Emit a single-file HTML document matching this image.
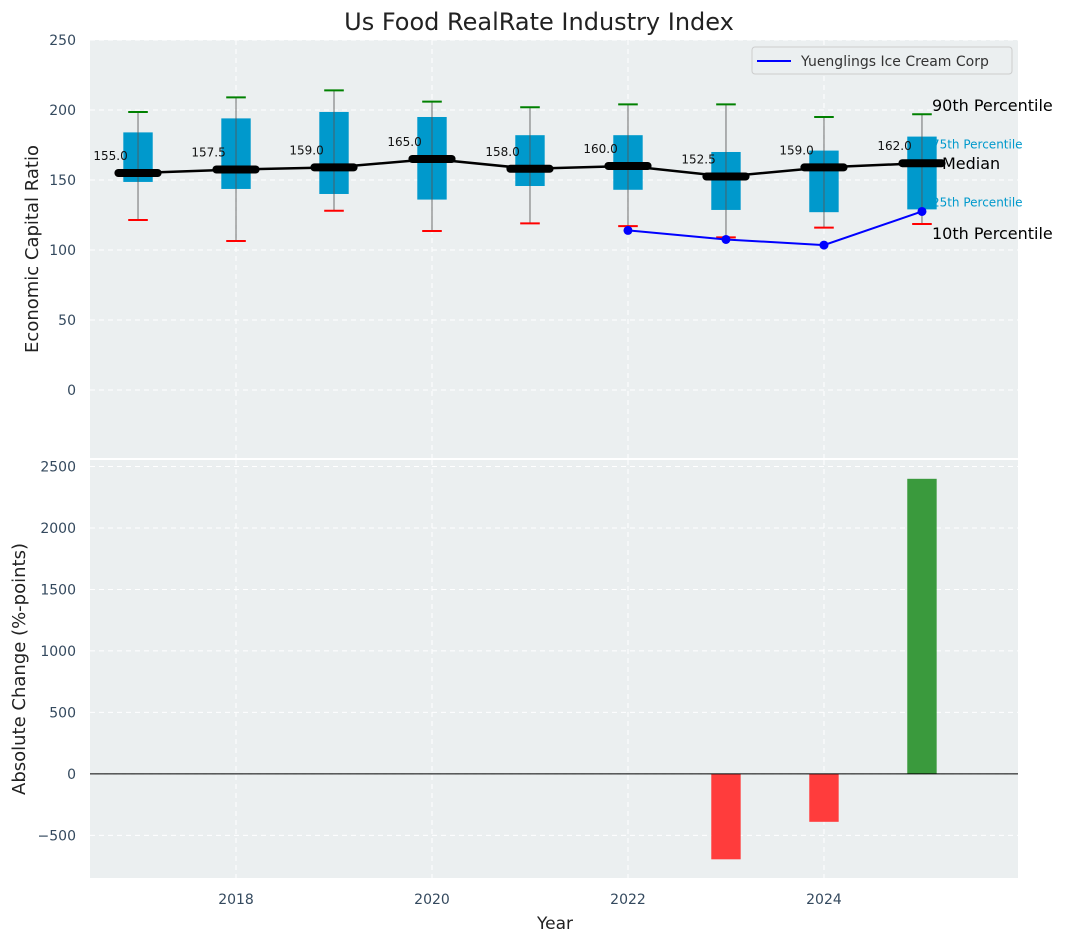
<!DOCTYPE html>
<html><head><meta charset="utf-8"><style>
body{margin:0;background:#fff;}
svg text{font-family:"DejaVu Sans","Liberation Sans",sans-serif;}
</style></head><body>
<svg id="c" width="1067" height="942" xmlns="http://www.w3.org/2000/svg">
<text x="539" y="30" text-anchor="middle" font-size="24" fill="#222">Us Food RealRate Industry Index</text>
<g id="topg"></g><g id="botg"></g>
</svg>
<script>
const years=[2017,2018,2019,2020,2021,2022,2023,2024,2025];
const p90=[198.6,209,214,206,202,204,204,195,197];
const p75=[184,194,198.6,195,182,182,170,171,181];
const median=[155,157.5,159,165,158,160,152.5,159,162];
const p25=[148.6,143.6,140,136,145.7,143,128.6,127,129];
const p10=[121.4,106.4,128,113.6,119,117,109,116,118.6];
const compYears=[2022,2023,2024,2025];
const compVals=[114,107.5,103.5,127.5];
const changeYears=[2023,2024,2025];
const changeVals=[-695,-390,2400];
const topTicks=[0,50,100,150,200,250];
const botTicks=[-500,0,500,1000,1500,2000,2500];
const xTicks=[2018,2020,2022,2024];

const NS="http://www.w3.org/2000/svg";
const X0=90,X1=1018;
const sx=v=>X0+(v-2016.51)/(2025.98-2016.51)*(X1-X0);
const T0=40,T1=458;const sy=v=>T1-(v+48.6)/(250+48.6)*(T1-T0);
const B0=460,B1=878;const by=v=>B1-(v+847)/(2553+847)*(B1-B0);
function el(tag,at,parent,name,txt){const e=document.createElementNS(NS,tag);for(const k in at)e.setAttribute(k,at[k]);


if(txt!==undefined)e.textContent=txt;parent.appendChild(e);return e;}
const topG=document.getElementById('topg'),botG=document.getElementById('botg');
el('rect',{x:X0,y:T0,width:X1-X0,height:T1-T0,fill:'#ebeff0'},topG,'top-plot-area');
el('rect',{x:X0,y:B0,width:X1-X0,height:B1-B0,fill:'#ebeff0'},botG,'bottom-plot-area');
const grid={stroke:'#fff','stroke-dasharray':'5,4','stroke-width':1};
topTicks.forEach(t=>{el('line',{x1:X0,x2:X1,y1:sy(t),y2:sy(t),...grid},topG,'y-gridline');
el('text',{x:76,y:sy(t)+5,'text-anchor':'end','font-size':14,fill:'#34495e'},topG,'y-tick-label',t);});
botTicks.forEach(t=>{el('line',{x1:X0,x2:X1,y1:by(t),y2:by(t),...grid},botG,'y-gridline');
el('text',{x:76,y:by(t)+5,'text-anchor':'end','font-size':14,fill:'#34495e'},botG,'y-tick-label',t<0?'\u2212'+(-t):t);});
xTicks.forEach(t=>{el('line',{x1:sx(t),x2:sx(t),y1:T0,y2:T1,...grid},topG,'x-gridline');
el('line',{x1:sx(t),x2:sx(t),y1:B0,y2:B1,...grid},botG,'x-gridline');
el('text',{x:sx(t),y:904,'text-anchor':'middle','font-size':14,fill:'#34495e'},botG,'x-tick-label',t);});
const ax=sx(2025)+10;
el('text',{x:ax,y:sy(p90[8])-3,'font-size':16,fill:'#000'},topG,'p90-annotation','90th Percentile');
el('text',{x:ax,y:sy(p75[8])+12,'font-size':12,fill:'#0099cc'},topG,'p75-annotation','75th Percentile');
el('text',{x:ax+10,y:sy(median[8])+6,'font-size':16,fill:'#000'},topG,'median-annotation','Median');
el('text',{x:ax,y:sy(p25[8])-3,'font-size':12,fill:'#0099cc'},topG,'p25-annotation','25th Percentile');
el('text',{x:ax,y:sy(p10[8])+15,'font-size':16,fill:'#000'},topG,'p10-annotation','10th Percentile');
years.forEach((y,i)=>{const cx=sx(y);
el('rect',{x:sx(y-0.15),y:sy(p75[i]),width:sx(y+0.15)-sx(y-0.15),height:sy(p25[i])-sy(p75[i]),fill:'#0099cc'},topG,'iqr-box');
el('line',{x1:cx,x2:cx,y1:sy(p90[i]),y2:sy(p10[i]),stroke:'#555','stroke-opacity':0.7,'stroke-width':1.2},topG,'whisker');
el('line',{x1:sx(y-0.1),x2:sx(y+0.1),y1:sy(p90[i]),y2:sy(p90[i]),stroke:'green','stroke-width':2},topG,'p90-cap');
el('line',{x1:sx(y-0.1),x2:sx(y+0.1),y1:sy(p10[i]),y2:sy(p10[i]),stroke:'red','stroke-width':2},topG,'p10-cap');
});
el('polyline',{points:years.map((y,i)=>sx(y)+','+sy(median[i])).join(' '),fill:'none',stroke:'#000','stroke-width':2.5},topG,'median-line');
years.forEach((y,i)=>{
el('line',{x1:sx(y-0.2),x2:sx(y+0.2),y1:sy(median[i]),y2:sy(median[i]),stroke:'#000','stroke-width':8,'stroke-linecap':'round'},topG,'median-marker');
el('text',{x:sx(y-0.28),y:sy(median[i])-13,'text-anchor':'middle','font-size':12,fill:'#111'},topG,'median-label',median[i].toFixed(1));});
el('polyline',{points:compYears.map((y,i)=>sx(y)+','+sy(compVals[i])).join(' '),fill:'none',stroke:'blue','stroke-width':2},topG,'company-line');
compYears.forEach((y,i)=>el('circle',{cx:sx(y),cy:sy(compVals[i]),r:4.5,fill:'blue'},topG,'company-point'));
el('rect',{x:752,y:47,width:260,height:27,rx:3,fill:'#ebeff0',stroke:'#ccc'},topG,'legend');
el('line',{x1:757,x2:791,y1:61,y2:61,stroke:'blue','stroke-width':2},topG,'legend-swatch');
el('text',{x:801,y:66,'font-size':14,fill:'#333'},topG,'legend-entry','Yuenglings Ice Cream Corp');
changeYears.forEach((y,i)=>{const v=changeVals[i];
el('rect',{x:sx(y-0.15),y:Math.min(by(v),by(0)),width:sx(y+0.15)-sx(y-0.15),height:Math.abs(by(v)-by(0)),fill:v>=0?'#3a9a3d':'#ff3c3c'},botG,'change-bar-'+y);});
el('line',{x1:X0,x2:X1,y1:by(0),y2:by(0),stroke:'#000','stroke-width':1},botG,'zero-line');
el('text',{x:555,y:929,'text-anchor':'middle','font-size':17,fill:'#222'},botG,'x-axis-title','Year');
el('text',{x:0,y:0,transform:'translate(38,249) rotate(-90)','text-anchor':'middle','font-size':18,fill:'#222'},topG,'top-y-axis-title','Economic Capital Ratio');
el('text',{x:0,y:0,transform:'translate(25,669) rotate(-90)','text-anchor':'middle','font-size':18,fill:'#222'},botG,'bottom-y-axis-title','Absolute Change (%-points)');
</script>
</body></html>
